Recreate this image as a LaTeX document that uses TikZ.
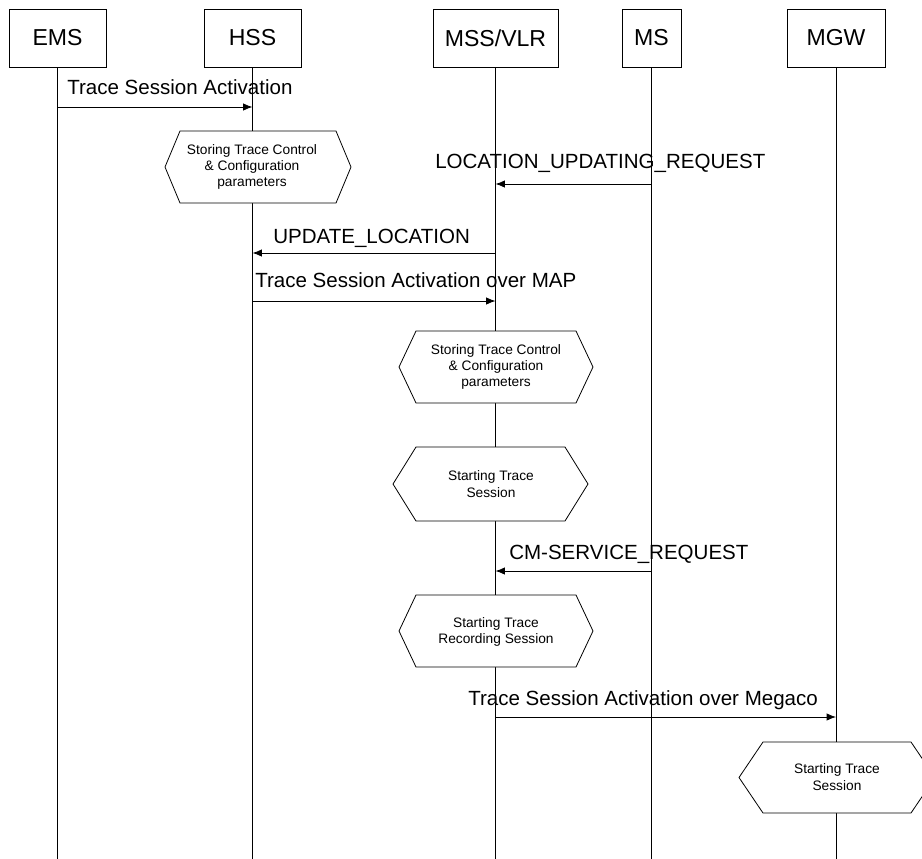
\documentclass[tikz,border=0pt]{standalone}
\usepackage{fontspec}
\setmainfont{Liberation Sans}
\usetikzlibrary{arrows.meta}
\tikzset{
  ent/.style={draw, line width=0.6pt, minimum height=43.5pt, inner sep=0pt,
    font=\fontsize{17.3}{20}\selectfont},
  life/.style={line width=0.6pt},
  msg/.style={line width=0.6pt, -{Latex[length=7pt,width=5.5pt]}},
  lbl/.style={anchor=base west, inner sep=0pt, font=\fontsize{15.4}{18}\selectfont},
  hexline/.style={draw, line width=0.6pt, fill=white},
  hextext/.style={align=center, inner sep=0pt, font=\fontsize{10.3}{12.3}\selectfont},
}
% #1 name, #2 left, #3 right, #4 top, #5 bottom, #6 inset, #7 text x, #8 text y, #9 text
\newcommand\hexshape[9]{%
  \path[hexline] (#2,{(#4+#5)/2}) -- (#2+#6,#4) -- (#3-#6,#4) -- (#3,{(#4+#5)/2})
    -- (#3-#6,#5) -- (#2+#6,#5) -- cycle;
  \node[hextext] (#1) at (#7,#8) {#9};}
\begin{document}
\begin{tikzpicture}[x=0.75pt,y=-0.75pt]
\useasboundingbox (0,0) rectangle (922,858);
% entities
\node[ent, minimum width=72.75pt] (ems) at (57.5,38) {EMS};
\node[ent, minimum width=72.75pt] (hss) at (252.5,38) {HSS};
\node[ent, minimum width=93.75pt] (mss) at (495.5,38) {MSS/VLR};
\node[ent, minimum width=44.25pt] (ms) at (651.5,38) {MS};
\node[ent, minimum width=73.5pt] (mgw) at (836,38) {MGW};
% lifeline ends
\coordinate (emsE) at (57.5,860);
\coordinate (hssE) at (252.5,860);
\coordinate (mssE) at (495.5,860);
\coordinate (msE) at (651.5,860);
\coordinate (mgwE) at (836,860);
\draw[life] (ems.south) -- (emsE);
\draw[life] (hss.south) -- (hssE);
\draw[life] (mss.south) -- (mssE);
\draw[life] (ms.south) -- (msE);
\draw[life] (mgw.south) -- (mgwE);
% hexagons
\hexshape{h1}{165}{351}{131}{203}{15}{252}{167}{Storing Trace Control\\\& Configuration\\parameters}
\hexshape{h2}{399}{593}{331}{403}{17}{496}{367}{Storing Trace Control\\\& Configuration\\parameters}
\hexshape{h3}{393}{588}{447}{521}{23}{491}{484}{Starting Trace\\Session}
\hexshape{h4}{399}{593}{595}{667}{17}{496}{632}{Starting Trace\\Recording Session}
\hexshape{h5}{739}{935}{742}{813}{24}{837}{777}{Starting Trace\\Session}
% messages
\node[lbl] (l1) at (67,94) {Trace Session Activation};
\draw[msg] (ems.south |- 0,107) -- (hss.south |- 0,107);
\node[lbl] (l2) at (435,168) {LOCATION\_UPDATING\_REQUEST};
\draw[msg] (ms.south |- 0,184) -- (mss.south |- 0,184);
\node[lbl] (l3) at (273,243) {UPDATE\_LOCATION};
\draw[msg] (mss.south |- 0,253) -- (hss.south |- 0,253);
\node[lbl] (l4) at (255,287) {Trace Session Activation over MAP};
\draw[msg] (hss.south |- 0,301) -- (mss.south |- 0,301);
\node[lbl] (l5) at (509,559) {CM-SERVICE\_REQUEST};
\draw[msg] (ms.south |- 0,571) -- (mss.south |- 0,571);
\node[lbl] (l6) at (468,705) {Trace Session Activation over Megaco};
\draw[msg] (mss.south |- 0,717) -- (mgw.south |- 0,717);
\end{tikzpicture}
\end{document}
